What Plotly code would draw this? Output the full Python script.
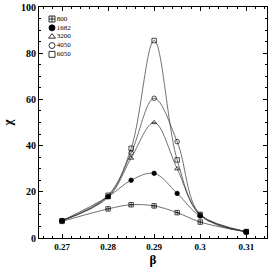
import plotly.graph_objects as go

beta = [0.27, 0.28, 0.285, 0.29, 0.295, 0.30, 0.31]
series_names = ["800", "1682", "3200", "4050", "6050"]
chi800 = [7.2, 12.6, 14.4, 13.9, 11.0, 6.9, 2.6]
chi1682 = [7.5, 17.9, 25.0, 28.0, 19.3, 9.5, 2.6]
chi3200 = [7.5, 17.5, 34.6, 50.0, 30.0, 9.8, 2.7]
chi4050 = [7.5, 18.0, 36.8, 60.5, 41.7, 10.0, 2.7]
chi6050 = [7.5, 18.5, 38.8, 85.5, 33.8, 10.2, 2.8]
x_ticks = [0.27, 0.28, 0.29, 0.30, 0.31]
x_tick_labels = ["0.27", "0.28", "0.29", "0.3", "0.31"]
y_ticks = [0, 20, 40, 60, 80, 100]

values = [chi800, chi1682, chi3200, chi4050, chi6050]
symbols = ["square-cross-open", "circle", "triangle-up-open", "circle-open", "square-open"]

SERIF = "Liberation Serif, Times New Roman, DejaVu Serif, serif"

fig = go.Figure()
for name, vals in zip(series_names, values):
    fig.add_trace(go.Scatter(x=beta, y=vals, mode="lines",
                             line=dict(color="#333333", width=0.7, shape="spline", smoothing=1.0),
                             showlegend=False, hoverinfo="skip"))
for name, vals, sym in zip(series_names, values, symbols):
    fig.add_trace(go.Scatter(x=beta, y=vals, mode="markers", name=name, showlegend=False,
                             marker=dict(symbol=sym, size=4.5, color="black",
                                         line=dict(color="black", width=0.7))))

# legend drawn as an inset keyed by series index
idx = list(range(len(series_names)))
fig.add_trace(go.Scatter(x=[0] * len(idx), y=idx, xaxis="x2", yaxis="y2",
                         mode="markers+text", text=series_names, textposition="middle right",
                         textfont=dict(family=SERIF, size=7, color="black", weight="normal"),
                         marker=dict(symbol=symbols, size=6, color="black",
                                     line=dict(color="black", width=0.8)),
                         cliponaxis=False, showlegend=False, hoverinfo="skip"))

font = dict(family=SERIF, size=9, color="black", weight="bold")
axis_common = dict(showline=True, linecolor="black", linewidth=1, mirror="ticks",
                   ticks="inside", ticklen=4, tickwidth=0.8, tickcolor="black",
                   showgrid=False, zeroline=False, automargin=False)
fig.update_layout(
    xaxis=dict(range=[0.265, 0.3145], tickvals=x_ticks, ticktext=x_tick_labels, tickfont=font,
               minor=dict(dtick=0.002, ticks="inside", ticklen=2, tickcolor="black", tickwidth=0.6),
               title=dict(text="β", font=dict(family=SERIF, size=13, color="black"), standoff=2),
               **axis_common),
    yaxis=dict(range=[0, 100], tickvals=y_ticks,
               tickfont=dict(family=SERIF, size=10, color="black", weight="bold"),
               minor=dict(dtick=5, ticks="inside", ticklen=2, tickcolor="black", tickwidth=0.6),
               title=dict(text="χ", font=dict(family=SERIF, size=13, color="black"), standoff=10),
               **axis_common),
    xaxis2=dict(domain=[0.057, 0.25], range=[0, 1], visible=False, anchor="y2"),
    yaxis2=dict(domain=[0.795, 0.948], range=[4, 0], visible=False, anchor="x2"),
    width=273, height=273, margin=dict(l=39, r=6, t=7, b=35, autoexpand=False),
    plot_bgcolor="white", paper_bgcolor="white", showlegend=False, font=font)
fig.write_html("out.html", config={"displayModeBar": False},
               post_script="document.body.style.margin='0';")
